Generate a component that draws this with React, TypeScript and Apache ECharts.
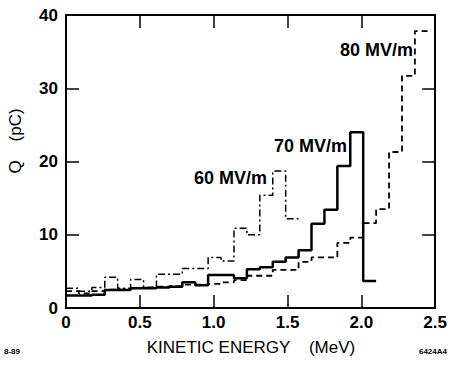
import React, { useEffect, useRef } from "react";
import * as echarts from "echarts";

// Bin edges in MeV (shared by all three histograms)
const binEdges = [
  0, 0.0875, 0.175, 0.2625, 0.35, 0.4375, 0.525, 0.6125, 0.7, 0.7875, 0.875,
  0.9625, 1.05, 1.1375, 1.225, 1.3125, 1.4, 1.4875, 1.575, 1.6625, 1.75,
  1.8375, 1.925, 2.0125, 2.1, 2.1875, 2.275, 2.3625, 2.45,
];

// Charge per bin (pC)
const q60 = [
  2.7, 2.3, 2.8, 4.2, 2.7, 3.9, 2.8, 4.6, 4.6, 5.4, 5.4, 6.9, 6.4, 10.9, 10.0,
  15.4, 18.7, 12.2,
];
const q70 = [
  1.7, 1.7, 1.8, 2.45, 2.45, 2.7, 2.7, 2.8, 2.9, 3.5, 3.1, 4.5, 4.5, 4.05, 5.3,
  5.55, 6.3, 6.9, 7.9, 11.5, 13.4, 19.4, 24.0, 3.7,
];
const q80 = [
  2.3, 2.0, 2.3, 2.5, 2.5, 2.7, 2.8, 2.9, 3.0, 3.2, 3.2, 3.3, 3.5, 3.8, 4.4,
  4.4, 5.2, 5.2, 6.3, 6.9, 6.9, 8.9, 9.6, 11.6, 13.5, 21.3, 31.7, 37.8,
];

const seriesNames = ["60 MV/m", "70 MV/m", "80 MV/m"];
const xAxisTitle = "KINETIC ENERGY    (MeV)";
const yAxisTitle = "Q    (pC)";
const leftNote = "8-89";
const rightNote = "6424A4";

const FONT = "'Liberation Sans', Arial, Helvetica, sans-serif";

function histPoints(values: number[]) {
  const pts: number[][] = [];
  values.forEach((v, i) => {
    pts.push([binEdges[i], v]);
    pts.push([binEdges[i + 1], v]);
  });
  return pts;
}

export default function App() {
  const ref = useRef<HTMLDivElement>(null);
  useEffect(() => {
    document.body.style.margin = "0";
    if (!ref.current) return;
    const chart = echarts.init(ref.current, null, { renderer: "svg" });
    const axisCommon = {
      min: 0,
      axisLine: { show: true, onZero: false, lineStyle: { color: "#000", width: 2 } },
      axisTick: { show: true, inside: true, length: 13, lineStyle: { color: "#000", width: 1.5 } },
      splitLine: { show: false },
    };
    const labelStyle = { color: "#000", fontFamily: FONT, fontSize: 17, fontWeight: "bold" };
    const annFont = `bold 18px ${FONT}`;
    chart.setOption({
      animation: false,
      backgroundColor: "#fff",
      grid: { left: 66, right: 13, top: 15, bottom: 59, containLabel: false },
      xAxis: [
        {
          ...axisCommon,
          type: "value",
          max: 2.5,
          interval: 0.5,
          position: "bottom",
          axisLabel: {
            ...labelStyle,
            margin: 6,
            formatter: (v: number) => (v === 0 ? "0" : v.toFixed(1)),
          },
        },
        {
          ...axisCommon,
          type: "value",
          max: 2.5,
          interval: 0.5,
          position: "top",
          axisLabel: { show: false },
        },
      ],
      yAxis: [
        {
          ...axisCommon,
          type: "value",
          max: 40,
          interval: 10,
          position: "left",
          axisLabel: { ...labelStyle, margin: 8 },
        },
        {
          ...axisCommon,
          type: "value",
          max: 40,
          interval: 10,
          position: "right",
          axisLabel: { show: false },
        },
      ],
      series: [
        {
          name: seriesNames[0],
          type: "line",
          data: histPoints(q60),
          showSymbol: false,
          symbol: "none",
          lineStyle: { color: "#000", width: 1.5, type: [7, 3, 2, 3] },
        },
        {
          name: seriesNames[1],
          type: "line",
          data: histPoints(q70),
          showSymbol: false,
          symbol: "none",
          lineStyle: { color: "#000", width: 2.5, type: "solid" },
        },
        {
          name: seriesNames[2],
          type: "line",
          data: histPoints(q80),
          showSymbol: false,
          symbol: "none",
          lineStyle: { color: "#000", width: 1.8, type: [6, 4] },
        },
      ],
      graphic: [
        {
          type: "text",
          x: 413,
          y: 50,
          style: { text: seriesNames[2], fill: "#000", font: annFont, textAlign: "right", textVerticalAlign: "middle" },
        },
        {
          type: "text",
          x: 347,
          y: 146,
          style: { text: seriesNames[1], fill: "#000", font: annFont, textAlign: "right", textVerticalAlign: "middle" },
        },
        {
          type: "text",
          x: 267,
          y: 178,
          style: { text: seriesNames[0], fill: "#000", font: annFont, textAlign: "right", textVerticalAlign: "middle" },
        },
        {
          type: "text",
          x: 251,
          y: 347,
          style: { text: xAxisTitle, fill: "#000", font: `17px ${FONT}`, textAlign: "center", textVerticalAlign: "middle" },
        },
        {
          type: "text",
          x: 15,
          y: 141,
          rotation: Math.PI / 2,
          style: { text: yAxisTitle, fill: "#000", font: `17px ${FONT}`, textAlign: "center", textVerticalAlign: "middle" },
        },
        {
          type: "text",
          x: 4,
          y: 351,
          style: { text: leftNote, fill: "#000", font: `bold 8px ${FONT}`, textAlign: "left", textVerticalAlign: "middle" },
        },
        {
          type: "text",
          x: 447,
          y: 351,
          style: { text: rightNote, fill: "#000", font: `bold 8px ${FONT}`, textAlign: "right", textVerticalAlign: "middle" },
        },
      ],
    });
    return () => chart.dispose();
  }, []);
  return (
    <div
      ref={ref}
      style={{ position: "absolute", left: 0, top: 0, width: 450, height: 367 }}
    />
  );
}
